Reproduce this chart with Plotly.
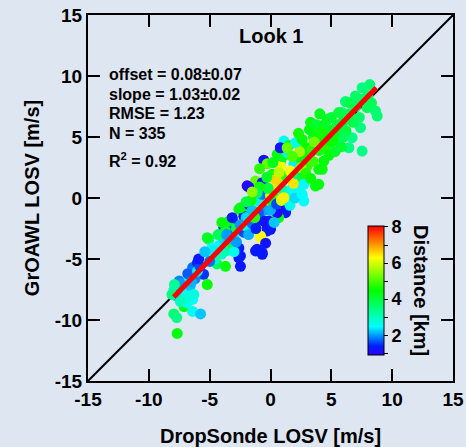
import plotly.graph_objects as go

# ---- data ----
x_vals = [
    -7.67, -7.95, -7.7, -7.1, -6.4, -5.75, -7.95, -7.5, -7.2, -6.7, -6.4, -6.0, -5.5, -5.2, -6.4, -6.85,
    -7.8, -7.6, -7.3, -6.9, -6.6, -6.2, -6.8, -7.9, -8.1, -6.0, -5.8, -7.0, -6.3, -7.4, -5.9, -6.5,
    -5.07, -4.8, -4.25, -4.4, -3.7, -3.56, -3.15, -2.6, -2.47, -2.47, -2.6, -5.2, -4.9, -4.6, -4.0, -3.9,
    -3.4, -3.0, -3.3, -3.83, -3.7, -3.15, -3.42, -2.6, -2.19, -2.19, -2.0, -2.8, -2.5, -2.2, -2.0, -1.8,
    -4.3, -4.6, -5.4, -5.0, -3.0, -2.8, -3.6, -2.47, -3.15, -4.0, -1.5,
    -1.78, -0.82, -1.37, -0.96, -0.68, -1.23, -1.78, -1.92, -0.68, -0.55, -0.27, 0.14, 0.82, 0.55, 0.82, 1.1,
    1.5, 2.19, 1.92, 2.19, 0.82, 1.64, 1.92, 2.33, 2.47, 2.74, 2.6, 1.23, 1.23, 1.23, 0.68, 0.55,
    0.55, -0.27, 0.0, -0.14, -0.55, -0.27, -0.82, -0.82, -0.82, -1.1, -1.23, -0.68, -0.68, -0.4, 0.0, 0.3,
    0.6, 0.2, -0.2, 0.9, 1.1, 0.4, -0.5, -1.0, -1.5, 0.0, 0.5, 1.5, 1.8, 1.3, 0.7, -0.3,
    -0.9, -1.1, -1.6, -1.3, 0.9, 1.9, 2.1, 2.6, 1.0, 1.4, 0.2, -0.9, -1.5, -2.0, -1.2, -0.4,
    0.3, 1.6, 2.0,
    2.74, 3.0, 3.56, 2.05, 2.19, 2.47, 2.74, 2.6, 1.64, 0.82, 1.37, 1.1, 3.97, 3.7, 3.97, 4.25,
    4.38, 5.2, 5.48, 4.05, 3.29, 4.66, 3.56, 5.89, 7.4, 6.71, 6.44, 7.53, 8.16, 7.53, 6.98, 6.16,
    8.63, 8.77, 7.94, 3.0, 3.4, 3.8, 4.2, 4.6, 5.0, 5.5, 6.0, 6.5, 7.0, 7.5, 8.0, 4.0,
    4.5, 5.0, 5.6, 6.2, 6.8, 7.3, 8.3, 3.2, 3.8, 4.4, 5.0, 5.6, 6.5, 7.2, 2.6, 2.3,
    3.0, 3.5, 2.5, 2.9, 3.3, 2.4, 1.8, 4.8, 5.3, 5.8, 6.0, 4.1, 3.6,
]
y_vals = [
    -11.1, -9.5, -9.8, -8.9, -9.3, -9.5, -7.6, -6.8, -7.0, -6.5, -5.7, -5.3, -6.25, -7.1, -8.3, -8.6,
    -8.0, -7.3, -7.8, -7.5, -7.2, -6.6, -6.2, -7.1, -7.9, -6.0, -5.6, -8.2, -7.9, -8.5, -5.0, -6.9,
    -3.4, -4.1, -3.9, -5.4, -5.6, -4.3, -3.8, -4.1, -4.75, -5.6, -4.9, -3.25, -4.6, -4.3, -4.6, -3.3,
    -3.4, -3.1, -2.6, -2.4, -2.7, -1.75, -1.9, -0.93, -1.07, -1.5, -1.6, -2.5, -2.2, -2.8, -2.3, -3.0,
    -3.0, -5.0, -4.4, -5.2, -4.4, -3.6, -3.0, -0.8, -1.61, -2.0, -2.1,
    -0.52, -0.52, -0.52, -0.25, 0.3, 1.4, 0.9, 1.0, 1.26, 3.1, 2.8, 1.94, 3.0, 3.58, 4.12, 4.67,
    4.3, 4.5, 2.76, 3.3, 2.62, 2.21, 1.53, 0.3, 1.12, -0.25, 0.16, -0.66, -1.07, -1.2, -1.61, -1.48,
    -1.2, -2.43, -2.57, -1.89, -1.89, -2.7, -3.25, -3.11, -1.75, -4.2, -4.34, -4.61, -4.48, -0.6, 0.2, 0.5,
    0.8, -0.3, 0.8, 1.2, 0.6, 1.5, -1.0, -1.2, -1.0, -1.0, -0.5, 0.2, 0.8, 1.8, 2.1, 1.7,
    0.9, 0.4, -0.2, -1.6, -0.2, 1.2, 2.0, 1.7, 3.4, 3.7, 2.9, 2.4, 0.5, -0.3, -2.5, -3.7,
    -2.0, -0.6, 0.0,
    4.12, 4.12, 4.94, 4.53, 3.44, 3.17, 1.12, 0.3, 2.21, 4.12, 4.12, 0.02, 1.12, 0.98, 2.35, 2.35,
    3.03, 4.67, 5.35, 6.9, 6.2, 6.45, 5.08, 7.0, 5.76, 4.94, 4.12, 3.85, 9.3, 9.04, 8.36, 7.9,
    7.13, 6.72, 7.4, 3.5, 4.0, 4.4, 4.9, 5.2, 5.6, 6.0, 6.3, 6.9, 7.5, 8.1, 8.4, 3.9,
    4.1, 4.6, 5.1, 5.5, 6.2, 6.6, 7.8, 5.6, 6.0, 6.0, 6.6, 7.0, 7.8, 8.0, 4.8, 5.3,
    2.6, 3.0, 2.5, 2.0, 1.6, 3.8, 3.4, 3.5, 3.8, 4.2, 5.0, 5.4, 4.6,
]
distance_km = [
    4.4, 3.6, 3.4, 4.4, 2.6, 2.2, 2.4, 1.9, 2.0, 2.4, 1.8, 1.4, 1.5, 4.5, 2.5, 2.6,
    2.2, 2.0, 2.3, 2.5, 2.2, 1.9, 1.7, 3.3, 3.5, 2.4, 1.6, 2.8, 2.7, 3.0, 1.3, 2.1,
    3.6, 2.6, 2.5, 3.7, 4.4, 3.2, 4.0, 1.4, 1.3, 1.3, 1.3, 4.2, 2.8, 2.4, 3.0, 2.3,
    2.2, 2.4, 1.5, 1.3, 4.0, 1.4, 4.3, 4.4, 4.2, 1.3, 2.3, 3.8, 2.0, 1.6, 2.6, 2.1,
    3.8, 3.0, 2.2, 1.8, 2.6, 2.0, 2.0, 4.3, 1.3, 4.5, 1.8,
    1.3, 2.5, 6.2, 2.4, 1.8, 5.2, 1.0, 1.0, 1.3, 1.2, 5.2, 4.6, 4.4, 4.5, 1.2, 2.5,
    4.4, 3.0, 2.4, 2.5, 6.2, 6.3, 6.4, 2.5, 2.6, 2.5, 2.5, 1.2, 1.2, 1.3, 4.3, 4.4,
    1.0, 1.3, 1.2, 1.3, 1.2, 1.3, 6.3, 6.3, 1.2, 1.3, 1.3, 1.3, 1.3, 5.5, 6.0, 5.0,
    6.5, 4.5, 4.0, 5.5, 3.2, 6.6, 2.0, 1.7, 2.2, 2.1, 1.6, 2.8, 2.5, 4.8, 5.8, 4.2,
    4.6, 3.8, 4.5, 4.8, 6.0, 6.5, 3.6, 4.0, 4.2, 2.8, 4.3, 4.8, 5.5, 4.0, 1.4, 1.2,
    2.2, 2.6, 2.3,
    5.0, 4.5, 4.4, 2.5, 2.5, 4.3, 2.5, 2.5, 6.3, 1.2, 5.2, 6.4, 4.4, 4.4, 4.4, 4.4,
    4.4, 4.3, 4.2, 4.3, 4.3, 4.2, 4.3, 3.5, 3.5, 3.4, 3.5, 3.4, 3.6, 3.5, 3.7, 3.6,
    3.6, 3.6, 3.8, 4.6, 4.8, 4.3, 4.5, 4.4, 4.2, 4.0, 4.1, 3.9, 3.8, 3.8, 3.7, 4.6,
    4.7, 4.5, 4.3, 4.0, 3.9, 3.7, 3.8, 4.4, 4.1, 4.2, 4.1, 4.0, 3.9, 3.7, 4.5, 4.6,
    4.8, 4.9, 5.5, 4.7, 4.5, 5.6, 5.0, 4.4, 4.2, 4.1, 3.8, 4.6, 5.3,
]

axis_ticks = [-15, -10, -5, 0, 5, 10, 15]
axis_tick_labels = ["-15", "-10", "-5", "0", "5", "10", "15"]
one_to_one = [-15, 15]
fit_offset = 0.08
fit_slope = 1.03
fit_x = [-7.95, 8.7]
fit_y = [fit_offset + fit_slope * v for v in fit_x]

stats_lines = ["offset = 0.08±0.07", "slope = 1.03±0.02", "RMSE = 1.23", "N = 335", "R<sup>2</sup> = 0.92"]
stats_y = [10.15, 8.5, 6.9, 5.3, 3.1]

BG = "#dde6f1"
FONT = "Liberation Sans, Arial, sans-serif"

colorscale = [
    [0.0, "rgb(45,0,255)"],
    [0.07, "rgb(0,30,255)"],
    [0.22, "rgb(0,255,255)"],
    [0.5, "rgb(0,255,0)"],
    [0.755, "rgb(255,255,0)"],
    [1.0, "rgb(255,0,0)"],
]

fig = go.Figure()
fig.add_trace(go.Scatter(x=one_to_one, y=one_to_one, mode="lines",
                         line=dict(color="black", width=2), showlegend=False, hoverinfo="skip"))
fig.add_trace(go.Scatter(
    x=x_vals, y=y_vals, mode="markers", showlegend=False,
    marker=dict(size=11, color=distance_km, colorscale=colorscale, cmin=0.9, cmax=8.05,
                line=dict(width=0), opacity=1,
                colorbar=dict(x=0.767, xanchor="left", y=0.247, yanchor="middle",
                              len=0.352, lenmode="fraction", thickness=16, thicknessmode="pixels",
                              xpad=0, ypad=0, outlinewidth=1, outlinecolor="black",
                              ticks="outside", ticklen=4, tickwidth=1, tickcolor="black",
                              tickmode="linear", tick0=2, dtick=1, ticklabelstep=2,
                              tickfont=dict(family=FONT, size=18, color="black", weight="bold"),
                              bgcolor="rgba(0,0,0,0)", borderwidth=0)),
))
fig.add_trace(go.Scatter(x=fit_x, y=fit_y, mode="lines",
                         line=dict(color="#ff0000", width=5), showlegend=False, hoverinfo="skip"))

axis_common = dict(range=[-15, 15], tickmode="array", tickvals=axis_ticks, ticktext=axis_tick_labels,
                   ticks="inside", ticklen=12, tickwidth=2,
                   tickcolor="black", showline=True, linecolor="black", linewidth=2, mirror="ticks",
                   showgrid=False, zeroline=False, automargin=False,
                   tickfont=dict(family=FONT, size=19, color="black", weight="bold"))

fig.update_layout(
    width=466, height=447,
    margin=dict(l=88, r=13, t=15, b=66),
    paper_bgcolor=BG, plot_bgcolor=BG,
    xaxis=dict(**axis_common,
               title=dict(text="DropSonde LOSV [m/s]", standoff=20,
                          font=dict(family=FONT, size=20, color="black", weight="bold"))),
    yaxis=dict(**axis_common,
               title=dict(text="GrOAWL LOSV [m/s]", standoff=10,
                          font=dict(family=FONT, size=20, color="black", weight="bold"))),
)

fig.add_annotation(x=0, y=13.3, xref="x", yref="y", text="Look 1", showarrow=False,
                   font=dict(family=FONT, size=20, color="black", weight="bold"))
for txt, yy in zip(stats_lines, stats_y):
    fig.add_annotation(x=-13.45, y=yy, xref="x", yref="y", text=txt, showarrow=False,
                       xanchor="left", yanchor="middle",
                       font=dict(family=FONT, size=16, color="black", weight="bold"))
fig.add_annotation(x=0.914, y=0.247, xref="paper", yref="paper", text="Distance [km]",
                   textangle=90, showarrow=False, xanchor="center", yanchor="middle",
                   font=dict(family=FONT, size=20, color="black", weight="bold"))

fig.write_html(
    "out.html",
    config={"displayModeBar": False},
    post_script="document.body.style.margin='0';document.body.style.padding='0';"
                "document.body.style.background='" + BG + "';",
)
